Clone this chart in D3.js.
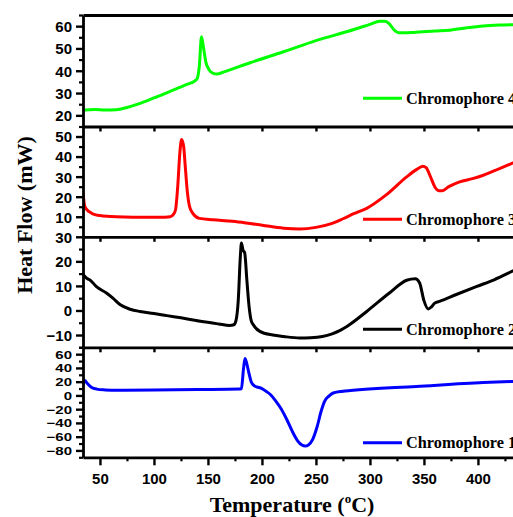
<!DOCTYPE html>
<html>
<head>
<meta charset="utf-8">
<script src="https://cdn.jsdelivr.net/npm/d3@7"></script>
<style>
  html, body { margin: 0; padding: 0; background: #fff; overflow: hidden; }
  svg { display: block; }
  .tick text { font-family: "Liberation Sans", Arial, sans-serif; font-weight: bold; font-size: 15px; fill: #000; }
</style>
</head>
<body>
<svg id="chart" width="513" height="517"></svg>
<script>
// ---- data ----
const temp4 = [34.3,36,45,55,65,75,85,100,115,130,138,140,142,144,146,148,151,155,158,165,189,220,250,280,300,309,314,318,322,327,340,360,374,390,405,420,440];
const flow4 = [21.6,22.4,22.6,22.4,22.5,23.5,25,27.8,30.8,33.8,35.5,36.5,42,55.2,50,44,40.5,38.8,38.5,39.5,43.6,48.5,53.5,57.7,60.8,62.2,62.2,61,58.5,57,57.2,57.8,58.2,59.3,60.1,60.5,60.7];

const temp3 = [34.3,36,40,44,50,65,96,110,115,118,120,122,124,125.6,127.5,129,131,133,136,142,155,173,189,200,220,235,250,265,275,285,297,315,334,343,349,352,356,360,364,367,373,383,395,405,420,440];
const flow3 = [22.4,15,12.5,11.3,10.6,10,9.7,9.8,10,11.2,13.5,25,42,48.5,45,35,22,15,11.7,9.2,8.5,7.7,6.6,5.8,4.3,3.9,4.7,6.7,9,11.5,14.2,20.9,29.9,33.5,35.2,34.5,30,25,23,23,25,27.4,29,30.7,34,38.5];

const temp2 = [34.3,38,41,47,56,62,68.5,78,87,100,112,125,143,160,170,174,176,178,180,181,182.5,184,186,188,190,192,198,210,220,235,245,256,265,272,281,297,318,334,342,346,350,354,357,360,365,380,399,415,432,440];
const flow2 = [14.6,13,12.3,9.6,7.1,5,2.4,0.5,-0.4,-1.2,-2.1,-3,-4.4,-5.5,-6.1,-5.8,-4,3.7,22,27.5,24.5,23.5,12.6,2,-4,-5.8,-8.5,-10,-10.6,-11.2,-11.1,-10.6,-9.5,-8.2,-5.8,-0.4,7.1,12.3,12.9,11.2,4,0.6,1.5,3,3.8,6.5,9.8,12.5,16,17.7];

const temp1 = [34.3,36,38,42,47,55,65,100,140,179,181,183,184.3,186,188,190,193,195,200,204,208,213,218,223,228,233,237,240,243,247,251,255,258,262,266,275,282,343,405,430,440];
const flow1 = [15.4,21.6,18,12,9.2,8,7.4,7.8,8.5,9.2,10,40,53.8,46,32,20,14,12.5,10,5.8,1,-8.6,-20,-35,-52,-66,-72.2,-73.6,-72,-64,-46,-22,-8.6,-1,3.5,6,7.2,13,18.7,20.1,20.5];

const seriesNames = ["Chromophore 4", "Chromophore 3", "Chromophore 2", "Chromophore 1"];
const seriesColors = ["#00ff00", "#ff0000", "#000000", "#0000ff"];

const xTicks = [50,100,150,200,250,300,350,400];
const xMinorTicks = [75,125,175,225,275,325,375,425];

const yDomains = [[15,65],[0,55],[-15,30],[-90,70]];
const yTicks = [[20,30,40,50,60],[10,20,30,40,50],[-10,0,10,20,30],[-80,-60,-40,-20,0,20,40,60]];
const yMinorTicks = [[25,35,45,55,65],[5,15,25,35,45,55],[-15,-5,5,15,25],[-90,-70,-50,-30,-10,10,30,50,70]];

const xTitle = "Temperature (";
const yTitle = "Heat Flow (mW)";

// ---- layout ----
const svg = d3.select("#chart");
const left = 83, right = 522;
const bands = [[15,126.5],[126.5,236.8],[236.8,347.3],[347.3,457.3]];
const x = d3.scaleLinear().domain([34.3, 440.8]).range([left, right]);

const allT = [temp4, temp3, temp2, temp1];
const allV = [flow4, flow3, flow2, flow1];

const legendY = [98.3, 219.3, 329.3, 442.7];
const labelSquash = [1, 1, 1, 0.74];

bands.forEach((b, i) => {
  const y = d3.scaleLinear().domain(yDomains[i]).range([b[1], b[0]]);

  svg.append("clipPath").attr("id", "clip" + i)
    .append("rect").attr("x", left).attr("y", b[0]).attr("width", right - left).attr("height", b[1] - b[0]);

  const pts = allT[i].map((t, k) => [t, allV[i][k]]);
  const line = d3.line().x(d => x(d[0])).y(d => y(d[1])).curve(d3.curveMonotoneX);
  svg.append("path").datum(pts)
    .attr("clip-path", "url(#clip" + i + ")")
    .attr("d", line)
    .attr("fill", "none")
    .attr("stroke", seriesColors[i])
    .attr("stroke-width", 3)
    .attr("stroke-linejoin", "round")
    .attr("stroke-linecap", "round");

  // y minor ticks
  svg.append("g").attr("transform", `translate(${left},0)`)
    .call(d3.axisLeft(y).tickValues(yMinorTicks[i]).tickSize(4).tickFormat("").tickSizeOuter(0))
    .call(g => g.select(".domain").remove())
    .call(g => g.selectAll(".tick line").attr("stroke-width", 2.2));
  // y major ticks
  svg.append("g").attr("transform", `translate(${left},0)`)
    .call(d3.axisLeft(y).tickValues(yTicks[i]).tickSize(7).tickPadding(4).tickSizeOuter(0))
    .call(g => g.select(".domain").attr("stroke-width", 2.8))
    .call(g => g.selectAll(".tick line").attr("stroke-width", 2.4))
    .call(g => g.selectAll(".tick text").attr("dy", "0.36em")
      .attr("transform", `scale(1,${labelSquash[i]})`));

  // bottom x axis of each panel
  if (i < 3) {
    svg.append("g").attr("transform", `translate(0,${b[1]})`)
      .call(d3.axisBottom(x).tickValues(xTicks).tickSize(5).tickFormat("").tickSizeOuter(0))
      .call(g => g.select(".domain").attr("stroke-width", 2.8))
      .call(g => g.selectAll(".tick line").attr("stroke-width", 2.4));
  } else {
    svg.append("g").attr("transform", `translate(0,${b[1]})`)
      .call(d3.axisBottom(x).tickValues(xMinorTicks).tickSize(4).tickFormat("").tickSizeOuter(0))
      .call(g => g.select(".domain").remove())
      .call(g => g.selectAll(".tick line").attr("stroke-width", 2.2));
    svg.append("g").attr("transform", `translate(0,${b[1]})`)
      .call(d3.axisBottom(x).tickValues(xTicks).tickSize(8).tickPadding(8).tickSizeOuter(0))
      .call(g => g.select(".domain").attr("stroke-width", 2.8))
      .call(g => g.selectAll(".tick line").attr("stroke-width", 2.4));
  }
  if (i === 0) {
    svg.append("g").attr("transform", `translate(0,${b[0]})`)
      .call(d3.axisTop(x).tickValues([]).tickSizeOuter(0))
      .call(g => g.select(".domain").attr("stroke-width", 2.8));
  }

  // legend
  const lg = svg.append("g");
  lg.append("line")
    .attr("x1", 363).attr("x2", 402)
    .attr("y1", legendY[i]).attr("y2", legendY[i])
    .attr("stroke", seriesColors[i]).attr("stroke-width", 3);
  lg.append("text")
    .attr("x", 406).attr("y", legendY[i] + 5.5)
    .attr("font-family", "'Liberation Serif', 'Times New Roman', serif")
    .attr("font-weight", "bold").attr("font-size", 16.3)
    .attr("fill", "#000")
    .text(seriesNames[i]);
});

// axis titles
const xt = svg.append("text")
  .attr("x", 292).attr("y", 512)
  .attr("text-anchor", "middle")
  .attr("font-family", "'Liberation Serif', 'Times New Roman', serif")
  .attr("font-weight", "bold").attr("font-size", 22)
  .attr("fill", "#000");
xt.append("tspan").text(xTitle);
xt.append("tspan").attr("font-size", 13).attr("dy", -9).text("o");
xt.append("tspan").attr("dy", 9).text("C)");

svg.append("text")
  .attr("transform", "translate(32,215) rotate(-90)")
  .attr("text-anchor", "middle")
  .attr("font-family", "'Liberation Serif', 'Times New Roman', serif")
  .attr("font-weight", "bold").attr("font-size", 22)
  .attr("fill", "#000")
  .text(yTitle);
</script>
</body>
</html>
